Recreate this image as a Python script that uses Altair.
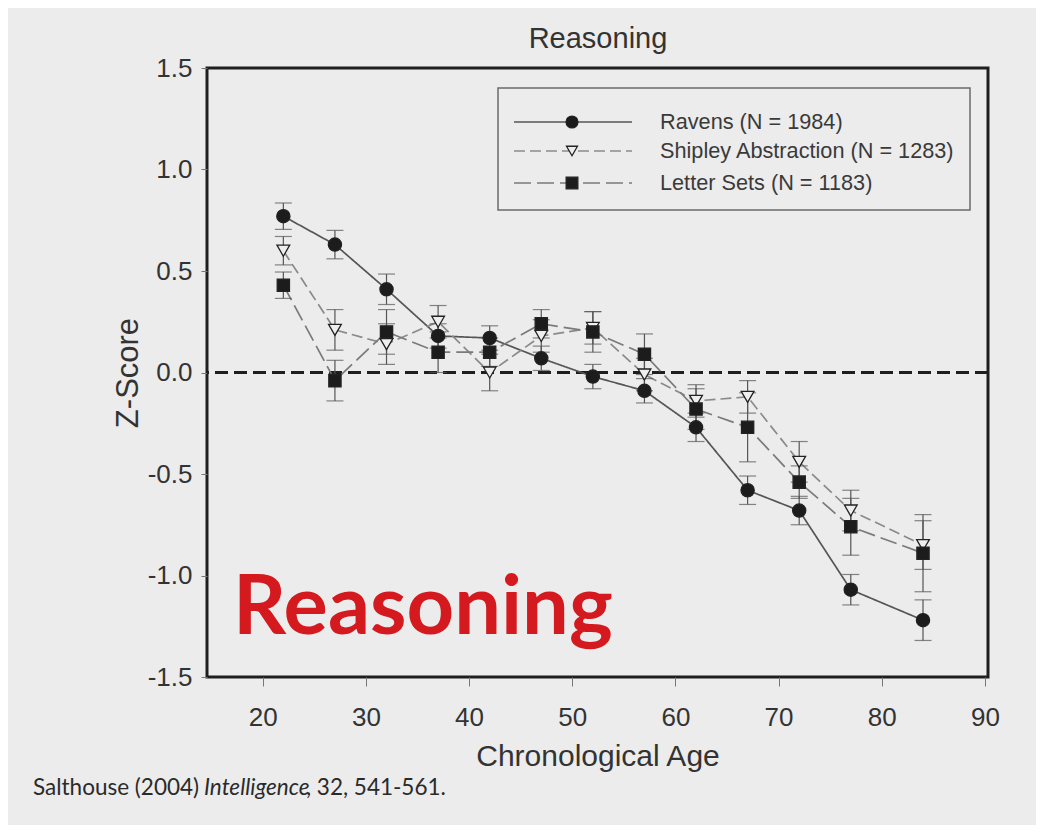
import altair as alt
import pandas as pd

# ---------------- data ----------------
ages = [22, 27, 32, 37, 42, 47, 52, 57, 62, 67, 72, 77, 84]
series_names = ["Ravens (N = 1984)", "Shipley Abstraction (N = 1283)", "Letter Sets (N = 1183)"]
ravens = [0.77, 0.63, 0.41, 0.18, 0.17, 0.07, -0.02, -0.09, -0.27, -0.58, -0.68, -1.07, -1.22]
ravens_err = [0.065, 0.07, 0.075, 0.06, 0.06, 0.06, 0.06, 0.06, 0.07, 0.07, 0.07, 0.075, 0.10]
shipley = [0.60, 0.21, 0.14, 0.25, 0.00, 0.18, 0.22, -0.01, -0.14, -0.12, -0.44, -0.68, -0.85]
shipley_err = [0.07, 0.10, 0.10, 0.08, 0.09, 0.08, 0.08, 0.08, 0.08, 0.08, 0.10, 0.10, 0.12]
letters = [0.43, -0.04, 0.20, 0.10, 0.10, 0.24, 0.20, 0.09, -0.18, -0.27, -0.54, -0.76, -0.89]
letters_err = [0.065, 0.10, 0.11, 0.10, 0.07, 0.07, 0.10, 0.10, 0.10, 0.17, 0.08, 0.14, 0.19]

x_ticks = [20, 30, 40, 50, 60, 70, 80, 90]
y_ticks = [-1.5, -1.0, -0.5, 0.0, 0.5, 1.0, 1.5]

title_text = "Reasoning"
overlay_text = "Reasoning"
x_title = "Chronological Age"
y_title = "Z-Score"
cite_a = "Salthouse (2004)"
cite_b = "Intelligence"
cite_c = ", 32, 541-561."

rows = []
for name, vals, errs in [(series_names[0], ravens, ravens_err),
                         (series_names[1], shipley, shipley_err),
                         (series_names[2], letters, letters_err)]:
    for a, v, e in zip(ages, vals, errs):
        rows.append({"series": name, "age": a, "z": v, "lo": v - e, "hi": v + e})
df = pd.DataFrame(rows)

# ---------------- styling ----------------
BG = "#ececec"
TXT = "#333333"
FONT = "Liberation Sans"
line_colors = ["#555555", "#8a8a8a", "#7a7a7a"]
dashes = [[1, 0], [11, 5], [17, 6]]
shapes = ["circle", "triangle-down", "square"]
fills = ["#1c1c1c", "#eeeeee", "#1c1c1c"]
sizes = [175, 150, 170]

W, H = 781, 609

x_scale = alt.Scale(domain=[14.6, 90.3], nice=False, zero=False)
y_scale = alt.Scale(domain=[-1.5, 1.5], nice=False, zero=False)

x_axis = alt.Axis(values=x_ticks, title=x_title, grid=False, domain=False,
                  tickSize=9, tickColor="#777", tickWidth=1,
                  labelFontSize=26, labelFont=FONT, labelColor=TXT, labelPadding=18,
                  titleFontSize=30, titleFont=FONT, titleColor=TXT, titleFontWeight="normal",
                  titlePadding=11)
y_axis = alt.Axis(values=y_ticks, title=y_title, grid=False, domain=False,
                  tickSize=6, tickColor="#777", tickWidth=1,
                  labelExpr="replace(format(datum.value, '.1f'), '\u2212', '-')",
                  labelFontSize=26, labelFont=FONT, labelColor=TXT, labelPadding=9,
                  titleFontSize=31, titleFont=FONT, titleColor=TXT, titleFontWeight="normal",
                  titlePadding=3)


def X(field):
    return alt.X(f"{field}:Q", scale=x_scale, axis=x_axis, title=x_title)


def Y(field):
    return alt.Y(f"{field}:Q", scale=y_scale, axis=y_axis, title=y_title)


base = alt.Chart(df)

zero_rule = alt.Chart(pd.DataFrame({"z": [0.0]})).mark_rule(
    color="#1e1e1e", strokeWidth=3, strokeDash=[13, 6]
).encode(y=Y("z"))

lines = base.mark_line(strokeWidth=1.7).encode(
    x=X("age"), y=Y("z"),
    color=alt.Color("series:N", scale=alt.Scale(domain=series_names, range=line_colors), legend=None),
    strokeDash=alt.StrokeDash("series:N", scale=alt.Scale(domain=series_names, range=dashes), legend=None),
    detail="series:N",
)

err_rules = base.mark_rule(color="#555555", strokeWidth=1.2).encode(
    x=X("age"), y=Y("lo"), y2="hi"
)
err_lo = base.mark_tick(color="#555555", orient="horizontal", size=17, thickness=1.2).encode(
    x=X("age"), y=Y("lo")
)
err_hi = base.mark_tick(color="#555555", orient="horizontal", size=17, thickness=1.2).encode(
    x=X("age"), y=Y("hi")
)

points = base.mark_point(filled=False, strokeWidth=1.3, opacity=1).encode(
    x=X("age"), y=Y("z"),
    shape=alt.Shape("series:N", scale=alt.Scale(domain=series_names, range=shapes), legend=None),
    fill=alt.Fill("series:N", scale=alt.Scale(domain=series_names, range=fills), legend=None),
    size=alt.Size("series:N", scale=alt.Scale(domain=series_names, range=sizes), legend=None),
    stroke=alt.value("#222222"),
)

# ---------------- manual legend (pixel positions inside plot area) ----------------
one = pd.DataFrame({"k": [0]})
legend_layers = [
    alt.Chart(one).mark_rect(fillOpacity=0, stroke="#6a6a6a", strokeWidth=1.5).encode(
        x=alt.value(291), x2=alt.value(763), y=alt.value(20), y2=alt.value(142))
]
row_y = [54, 83, 115]
for i, name in enumerate(series_names):
    legend_layers.append(
        alt.Chart(one).mark_rule(color=line_colors[i], strokeWidth=1.6, strokeDash=dashes[i]).encode(
            x=alt.value(307), x2=alt.value(425), y=alt.value(row_y[i])))
    legend_layers.append(
        alt.Chart(one).mark_point(shape=shapes[i], filled=True, fill=fills[i], stroke="#222222",
                                  strokeWidth=1.3, size=sizes[i] * 0.8, opacity=1).encode(
            x=alt.value(365), y=alt.value(row_y[i])))
    legend_layers.append(
        alt.Chart(pd.DataFrame({"t": [name]})).mark_text(
            align="left", baseline="middle", font=FONT, fontSize=21.7, color="#3a3a3a").encode(
            x=alt.value(453), y=alt.value(row_y[i]), text="t:N"))

# ---------------- annotations ----------------
title_mark = alt.Chart(pd.DataFrame({"t": [title_text]})).mark_text(
    align="center", baseline="middle", font=FONT, fontSize=29, color=TXT
).encode(x=alt.value(391), y=alt.value(-29), text="t:N")

overlay = alt.Chart(pd.DataFrame({"t": [overlay_text]})).mark_text(
    align="left", baseline="alphabetic", font="Lato", fontSize=83, fontWeight="bold", color="#d41a1f"
).encode(x=alt.value(26), y=alt.value(566), text="t:N")

CITE_SIZE = 22.5
cite1 = alt.Chart(pd.DataFrame({"t": [cite_a]})).mark_text(
    align="left", baseline="alphabetic", font="Lato", fontSize=CITE_SIZE, color="#2a2a2a"
).encode(x=alt.value(-174), y=alt.value(727), text="t:N")
cite2 = alt.Chart(pd.DataFrame({"t": [cite_b]})).mark_text(
    align="left", baseline="alphabetic", font="Lato", fontSize=CITE_SIZE, fontStyle="italic", color="#2a2a2a"
).encode(x=alt.value(-3), y=alt.value(727), text="t:N")
cite3 = alt.Chart(pd.DataFrame({"t": [cite_c]})).mark_text(
    align="left", baseline="alphabetic", font="Lato", fontSize=CITE_SIZE, color="#2a2a2a"
).encode(x=alt.value(99), y=alt.value(727), text="t:N")

chart = alt.layer(
    zero_rule, lines, err_rules, err_lo, err_hi, points,
    *legend_layers, title_mark, overlay, cite1, cite2, cite3
).properties(
    width=W, height=H,
    autosize=alt.AutoSizeParams(type="none"),
    padding={"left": 199, "top": 60, "right": 48, "bottom": 148},
    background=BG,
).configure_view(
    stroke="#1e1e1e", strokeWidth=3
).resolve_scale(
    color="independent", shape="independent", fill="independent", size="independent", strokeDash="independent"
)

chart.save("out.html", embed_options={"renderer": "svg", "actions": False})
